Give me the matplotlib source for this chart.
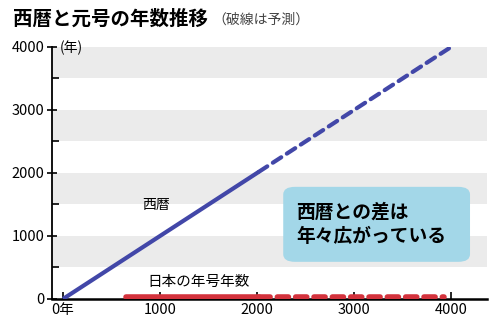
import matplotlib.pyplot as plt
from matplotlib.patches import FancyBboxPatch
from matplotlib.ticker import MultipleLocator

plt.rcParams['font.family'] = ['Noto Sans CJK JP', 'DejaVu Sans']

# 西暦（実線は実績、破線は予測）
seireki_x = [0, 2019]
seireki_y = [0, 2019]
seireki_pred_x = [2019, 4000]
seireki_pred_y = [2019, 4000]

# 日本の年号年数
nengo_x = [645, 2019]
nengo_y = [30, 30]
nengo_pred_x = [2019, 3930]
nengo_pred_y = [30, 30]

xticks = [0, 1000, 2000, 3000, 4000]
xtick_labels = ['0年', '1000', '2000', '3000', '4000']
yticks = [0, 1000, 2000, 3000, 4000]

blue = '#4247a8'
red = '#d3323c'

fig = plt.figure(figsize=(5, 3.29), dpi=100)
ax = fig.add_axes([0.104, 0.0912, 0.87, 0.766])
ax.set_xlim(-113, 4370)
ax.set_ylim(0, 4000)

# 背景の縞
for lo in [500, 1500, 2500, 3500]:
    ax.axhspan(lo, lo + 500, color='#ebebeb', lw=0, zorder=0)

ax.plot(seireki_x, seireki_y, color=blue, lw=3, solid_capstyle='butt', zorder=3)
ax.plot(seireki_pred_x, seireki_pred_y, color=blue, lw=3, ls=(0, (2.4, 1.6)),
        dash_capstyle='round', zorder=3)
ax.plot(nengo_x, nengo_y, color=red, lw=4, solid_capstyle='round', zorder=3)
ax.plot(nengo_pred_x, nengo_pred_y, color=red, lw=4, ls=(0, (2.0, 1.3)),
        dash_capstyle='round', zorder=3)

for s in ['top', 'right']:
    ax.spines[s].set_visible(False)
ax.spines['left'].set_linewidth(1.3)
ax.spines['bottom'].set_linewidth(1.8)
ax.spines['bottom'].set_zorder(2)

ax.set_xticks(xticks)
ax.set_xticklabels(xtick_labels)
ax.set_yticks(yticks)
ax.yaxis.set_minor_locator(MultipleLocator(500))
ax.tick_params(axis='y', which='major', direction='inout', length=7, width=1.2,
               labelsize=10.5, pad=2)
ax.tick_params(axis='y', which='minor', direction='in', length=5, width=1.2)
ax.tick_params(axis='x', which='major', direction='in', length=5, width=1.2,
               labelsize=10.5, pad=3)

ax.text(-30, 3990, '(年)', fontsize=10, va='center', ha='left')
ax.text(960, 1490, '西暦', fontsize=10, ha='center', va='center')
ax.text(1400, 270, '日本の年号年数', fontsize=10.5, ha='center', va='center')

# 吹き出し
box = FancyBboxPatch((2270, 590), 1925, 1190,
                     boxstyle='round,pad=0,rounding_size=120',
                     fc='#a3d7e8', ec='none', zorder=4)
ax.add_patch(box)
ax.text(2400, 1380, '西暦との差は', fontsize=13.5, fontweight='bold',
        ha='left', va='center', zorder=5)
ax.text(2400, 985, '年々広がっている', fontsize=13.5, fontweight='bold',
        ha='left', va='center', zorder=5)

fig.text(0.026, 0.942, '西暦と元号の年数推移', fontsize=14, fontweight='bold',
         ha='left', va='center')
fig.text(0.424, 0.94, '（破線は予測）', fontsize=10, color='#444444',
         ha='left', va='center')

fig.savefig('out.png', dpi=100)
